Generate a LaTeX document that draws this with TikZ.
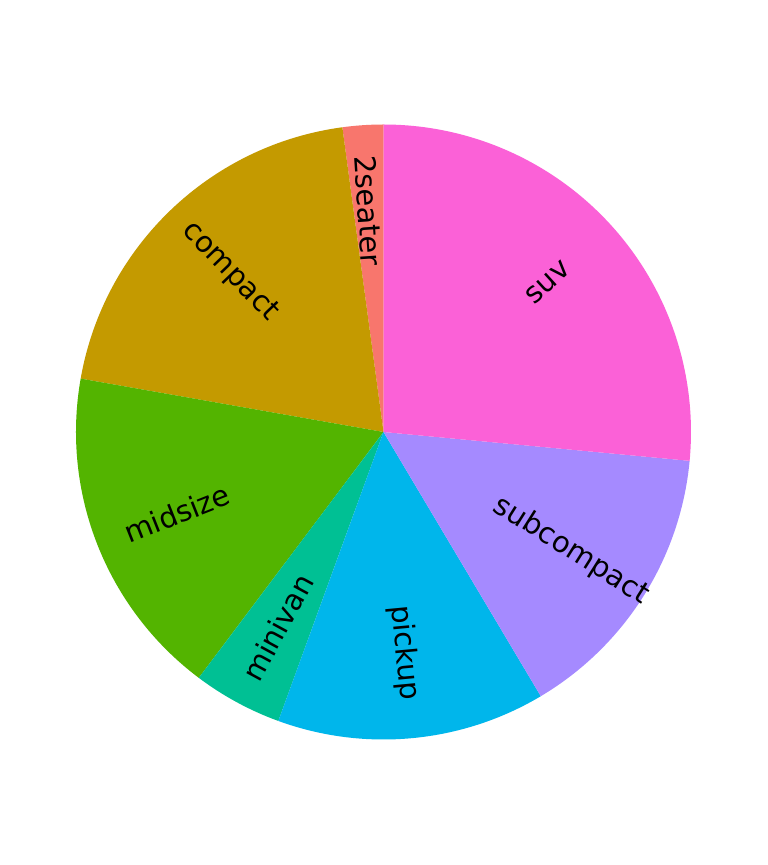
\documentclass[tikz,border=0pt]{standalone}
\usepackage{fontspec}
\setmainfont{DejaVu Sans}
\usetikzlibrary{calc}
\begin{document}
\begin{tikzpicture}[x=1pt,y=1pt,
  lbl/.style={font=\fontsize{29}{29}\selectfont, text=black, inner sep=0pt}]
\useasboundingbox (0,0) rectangle (768,865);
\fill[white] (0,0) rectangle (768,865);
\coordinate (c) at (383.5,433);
\def\R{307.5}
\def\L{222}
% slices: start end colour
\foreach \a/\b/\col in {90/97.692/F8766D, 97.692/170/C49A00, 170/233.077/53B400, 233.077/250/00C094, 250/300.769/00B6EB, 300.769/354.615/A58AFF, 354.615/450/FB61D7}{
  \definecolor{slc}{HTML}{\col}
  \fill[slc] (c) -- ++(\a:\R) arc[start angle=\a, end angle=\b, radius=\R] -- cycle;
}
\node[lbl, rotate=-86.15] (l1) at ($(c)+(93.846:\L)$) {2seater};
\node[lbl, rotate=-46.15] (l2) at ($(c)+(133.846:\L)$) {compact};
\node[lbl, rotate=21.54] (l3) at ($(c)+(201.538:\L)$) {midsize};
\node[lbl, rotate=61.54] (l4) at ($(c)+(241.538:\L)$) {minivan};
\node[lbl, rotate=-84.62] (l5) at ($(c)+(275.385:\L)$) {pickup};
\node[lbl, rotate=-32.31] (l6) at ($(c)+(327.692:\L)$) {subcompact};
\node[lbl, rotate=42.31] (l7) at ($(c)+(42.308:\L)$) {suv};
\end{tikzpicture}
\end{document}
